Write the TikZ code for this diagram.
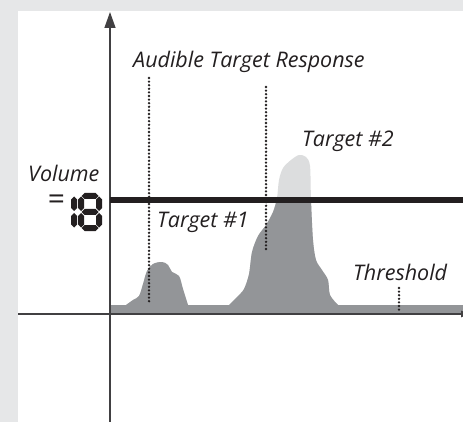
\documentclass[tikz,border=0pt]{standalone}
\usepackage{fontspec}
\setmainfont{Open Sans}
\usepackage{xcolor}
\usetikzlibrary{arrows.meta,positioning,calc}

\definecolor{fondo}{HTML}{E6E7E8}
\definecolor{senal}{HTML}{939598}
\definecolor{pico}{HTML}{DCDDDE}
\definecolor{tinta}{HTML}{231F20}
\definecolor{eje}{HTML}{414042}

% perfil de la senal (y hacia abajo, en px)
\newcommand{\perfil}{%
  (110,314) -- (110,305) -- (126,305)
  -- plot[smooth, tension=0.55] coordinates {(126,305) (133,300) (139,296) (143,284)
    (147,271) (153,264) (162,262) (168,265) (172,272) (179,276) (183,289) (188,305)}
  -- (229,305)
  -- plot[smooth, tension=0.5] coordinates {(229,305) (237,297) (244,289) (249,274)
    (252,252) (258,236) (266,225) (273,212) (277,198) (279,180) (283,168)
    (291,160) (299,155) (306,157) (310,166) (311,200) (313,240) (316,260)
    (322,270) (328,280) (330,295) (338,305)}
  -- (463,305) -- (463,314) -- cycle}

% segmentos del display
\newcommand{\vseg}[3]{\fill[tinta] (#1,#2) -- ++(3,3) -- (#1+3,#3-3) -- (#1,#3)
  -- (#1-3,#3-3) -- (#1-3,#2+3) -- cycle;}
\newcommand{\hseg}[3]{\fill[tinta] (#2,#1) -- ++(3,-3) -- (#3-3,#1-3) -- (#3,#1)
  -- (#3-3,#1+3) -- (#2+3,#1+3) -- cycle;}

\begin{document}
\begin{tikzpicture}[x=1pt, y=-1pt,
    % ---------- estilos ----------
    lbl/.style={font=\fontsize{21.5}{25}\selectfont\itshape, text=tinta,
      inner sep=0pt, anchor=base west},
    dotline/.style={line width=2.6pt, line cap=round,
      dash pattern=on 0pt off 3.6pt, color=tinta},
    axisline/.style={line width=1.3pt, color=eje},
    volline/.style={line width=6pt, color=tinta}
]

\def\xAx{110}
\def\yAx{314}
\def\yVol{200}

% ====== Fondo y panel ======
\clip (0,0) rectangle (463,422);
\fill[fondo] (0,0) rectangle (463,422);
\fill[white] (18,11) rectangle (463,422);

% ====== Senal ======
\fill[pico] \perfil;
\begin{scope}
  \clip (0,\yVol) rectangle (463,422);
  \fill[senal] \perfil;
\end{scope}

% ====== Ejes ======
\coordinate (xa) at (18,\yAx);
\coordinate (xb) at (471,\yAx);
\coordinate (ya) at (\xAx,422);
\coordinate (yb) at (\xAx,12);
\draw[axisline, -{Latex[length=10pt,width=7pt]}] (xa) -- (xb);
\draw[axisline, -{Triangle[length=16pt,width=11pt]}] (ya) -- (yb);

% ====== Textos ======
\node[lbl] (atr) at (133,68) {Audible Target Response};
\node[lbl] (t2) at (302,147) {Target \#2};
\node[lbl] (t1) at (157,227) {Target \#1};
\node[lbl] (thr) at (353,280) {Threshold};
\node[lbl] (vol) at (28,182) {Volume};
\node[lbl, anchor=center, font=\fontsize{30}{30}\selectfont] (eq) at (56.5,202) {=};

% ====== Display 18 ======
\vseg{74}{196.5}{211}
\vseg{74}{213}{227.5}
\hseg{196}{81.5}{98.5}
\hseg{212}{81.5}{98.5}
\hseg{228}{81.5}{98.5}
\vseg{81}{196.5}{211}
\vseg{81}{213}{227.5}
\vseg{99}{196.5}{211}
\vseg{99}{213}{227.5}

% ====== Lineas punteadas ======
\coordinate (r1a) at (149,78);
\coordinate (r1b) at (149,303);
\coordinate (r2a) at (266,87);
\coordinate (r2b) at (266,250);
\coordinate (tha) at (399,288);
\coordinate (thb) at (399,310);
\draw[dotline] (r1a) -- (r1b);
\draw[dotline] (r2a) -- (r2b);
\draw[dotline] (tha) -- (thb);

% ====== Volumen ======
\coordinate (va) at (\xAx,\yVol);
\coordinate (vb) at (463,\yVol);
\draw[volline] (va) -- (vb);

\end{tikzpicture}
\end{document}
